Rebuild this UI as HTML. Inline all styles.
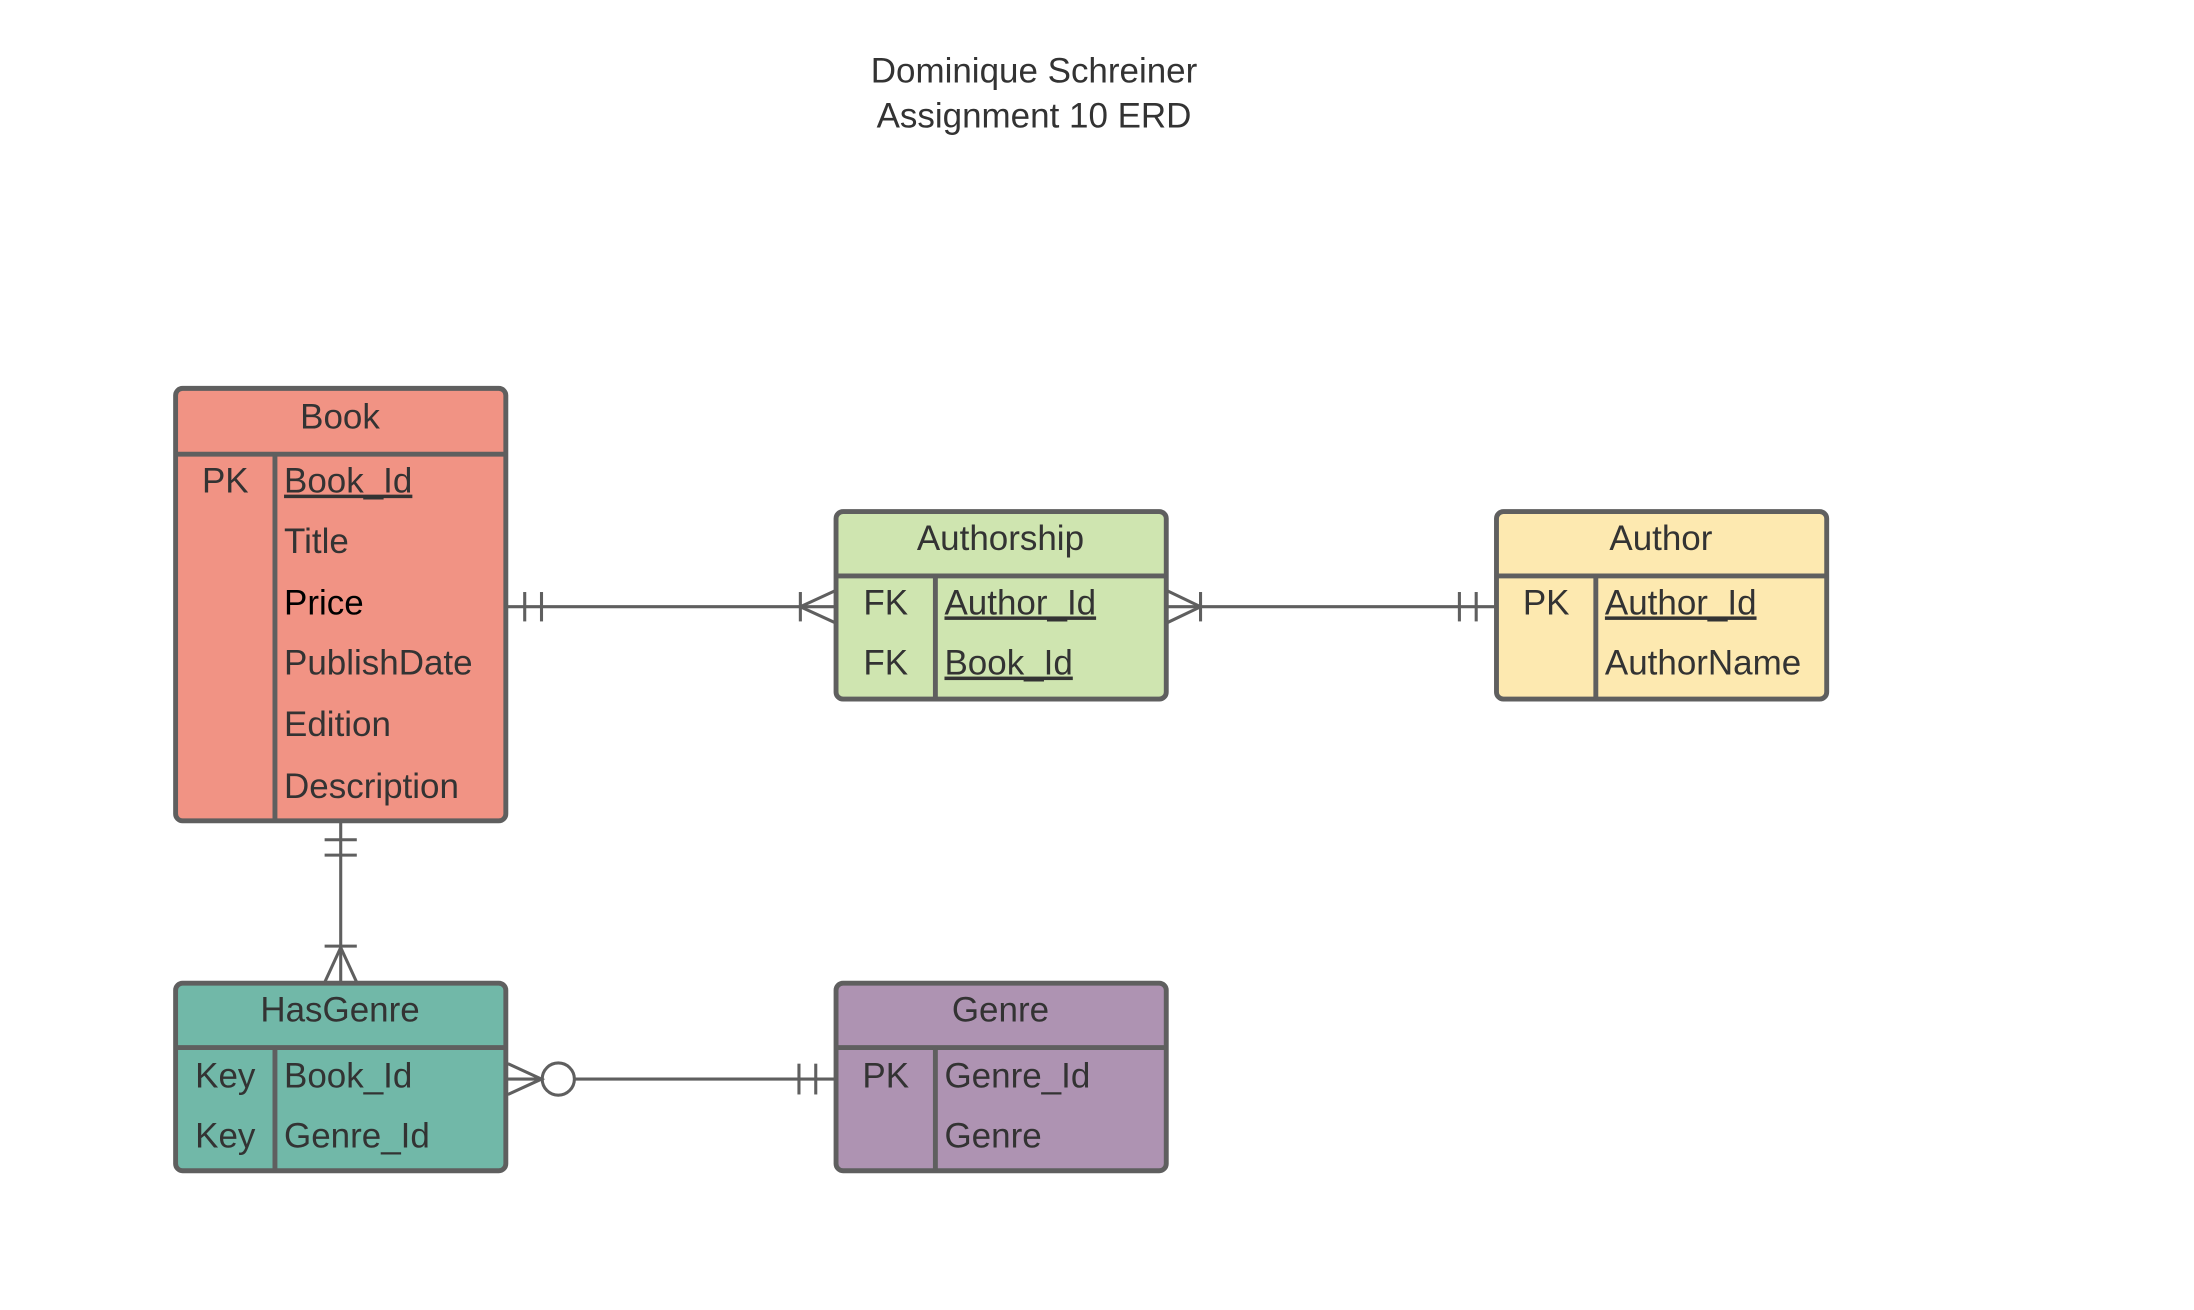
<!DOCTYPE html>
<html><head><meta charset="utf-8"><style>
html,body{margin:0;padding:0;background:#fff;}
svg{display:block;}
text{font-family:"Liberation Sans",Arial,sans-serif;font-size:25px;fill:#333;}
</style></head><body>
<svg width="2194" height="1310" viewBox="0 0 1568 936" preserveAspectRatio="none" xmlns="http://www.w3.org/2000/svg">
<text x="739" y="59" text-anchor="middle">Dominique Schreiner</text>
<text x="739" y="91" text-anchor="middle">Assignment 10 ERD</text>

<g stroke="#5f5f5f" stroke-width="3.5">
<rect x="125.5" y="277.5" width="236" height="309" rx="5" fill="#f19384"/>
<line x1="125.5" y1="324.5" x2="361.5" y2="324.5"/>
<line x1="196.5" y1="324.5" x2="196.5" y2="586.5"/>
<rect x="597.5" y="365.5" width="236" height="134" rx="5" fill="#cfe5b0"/>
<line x1="597.5" y1="411.5" x2="833.5" y2="411.5"/>
<line x1="668.5" y1="411.5" x2="668.5" y2="499.5"/>
<rect x="1069.5" y="365.5" width="236" height="134" rx="5" fill="#fde9b0"/>
<line x1="1069.5" y1="411.5" x2="1305.5" y2="411.5"/>
<line x1="1140.5" y1="411.5" x2="1140.5" y2="499.5"/>
<rect x="125.5" y="702.5" width="236" height="134" rx="5" fill="#71b8a8"/>
<line x1="125.5" y1="748.5" x2="361.5" y2="748.5"/>
<line x1="196.5" y1="748.5" x2="196.5" y2="836.5"/>
<rect x="597.5" y="702.5" width="236" height="134" rx="5" fill="#ae93b2"/>
<line x1="597.5" y1="748.5" x2="833.5" y2="748.5"/>
<line x1="668.5" y1="748.5" x2="668.5" y2="836.5"/>
</g>

<g stroke="#5f5f5f" stroke-width="2.2" fill="none">
<line x1="363" y1="433.5" x2="597" y2="433.5"/>
<line x1="375" y1="423" x2="375" y2="444"/>
<line x1="387" y1="423" x2="387" y2="444"/>
<line x1="572" y1="423" x2="572" y2="444"/>
<polyline points="597,422 572,433.5 597,445"/>
<line x1="834" y1="433.5" x2="1068" y2="433.5"/>
<polyline points="834,422 858,433.5 834,445"/>
<line x1="858" y1="423" x2="858" y2="444"/>
<line x1="1043" y1="423" x2="1043" y2="444"/>
<line x1="1055" y1="423" x2="1055" y2="444"/>
<line x1="243.5" y1="588" x2="243.5" y2="702"/>
<line x1="232" y1="600" x2="255" y2="600"/>
<line x1="232" y1="611" x2="255" y2="611"/>
<line x1="232" y1="676" x2="255" y2="676"/>
<polyline points="232,702 243.5,677 255,702"/>
<polyline points="363,760 387,771 363,782"/>
<line x1="363" y1="771" x2="387" y2="771"/>
<circle cx="399" cy="771" r="11.5"/>
<line x1="410.5" y1="771" x2="597" y2="771"/>
<line x1="571" y1="760" x2="571" y2="782"/>
<line x1="583" y1="760" x2="583" y2="782"/>
</g>

<text x="243" y="306" text-anchor="middle">Book</text>
<text x="161" y="352" text-anchor="middle">PK</text>
<text x="203" y="352" text-decoration="underline">Book_Id</text>
<text x="203" y="395">Title</text>
<text x="203" y="439" style="fill:#000">Price</text>
<text x="203" y="482">PublishDate</text>
<text x="203" y="526">Edition</text>
<text x="203" y="570">Description</text>
<text x="715" y="393" text-anchor="middle">Authorship</text>
<text x="633" y="439" text-anchor="middle">FK</text>
<text x="675" y="439" text-decoration="underline">Author_Id</text>
<text x="633" y="482" text-anchor="middle">FK</text>
<text x="675" y="482" text-decoration="underline">Book_Id</text>
<text x="1187" y="393" text-anchor="middle">Author</text>
<text x="1105" y="439" text-anchor="middle">PK</text>
<text x="1147" y="439" text-decoration="underline">Author_Id</text>
<text x="1147" y="482">AuthorName</text>
<text x="243" y="730" text-anchor="middle">HasGenre</text>
<text x="161" y="777" text-anchor="middle">Key</text>
<text x="203" y="777">Book_Id</text>
<text x="161" y="820" text-anchor="middle">Key</text>
<text x="203" y="820">Genre_Id</text>
<text x="715" y="730" text-anchor="middle">Genre</text>
<text x="633" y="777" text-anchor="middle">PK</text>
<text x="675" y="777">Genre_Id</text>
<text x="675" y="820">Genre</text>
</svg>
</body></html>
